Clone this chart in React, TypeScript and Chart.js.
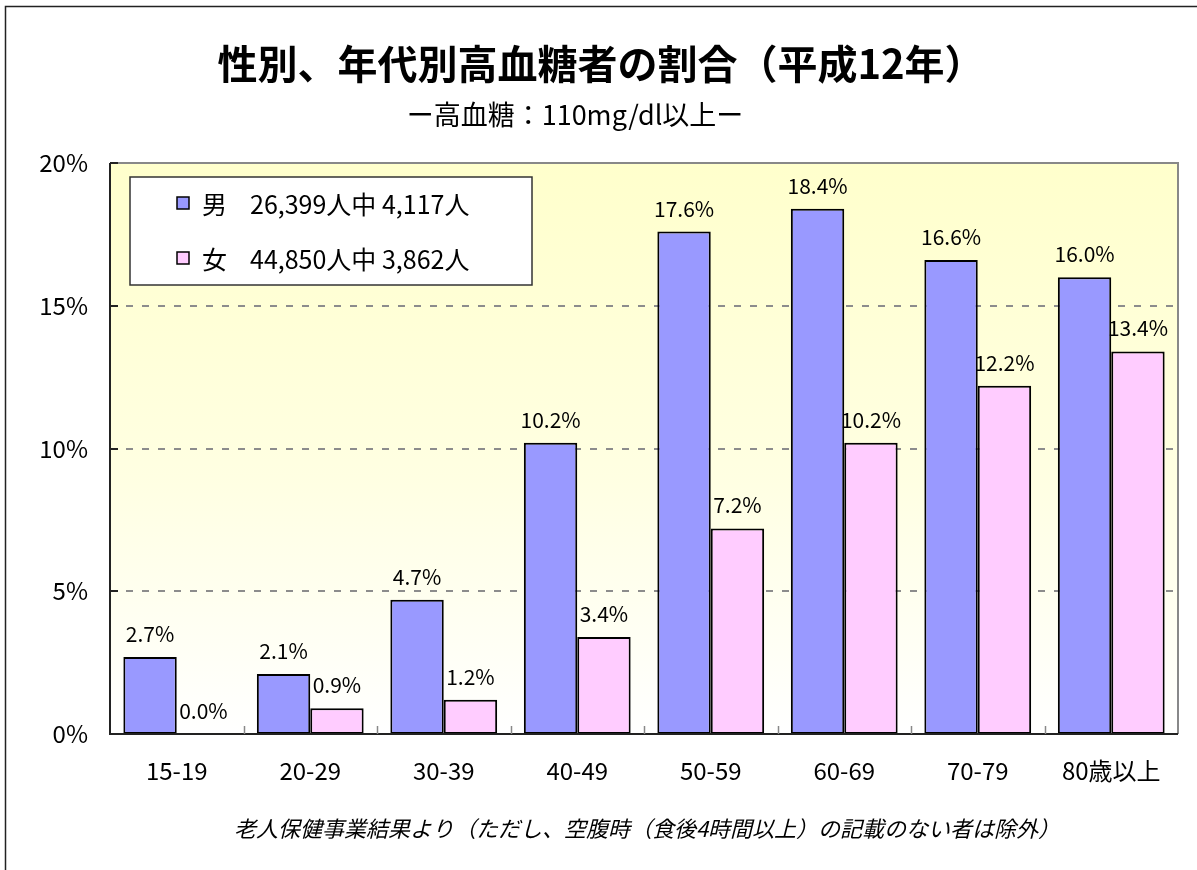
import React, { useEffect, useRef } from 'react';
import { Chart, registerables } from 'chart.js';

Chart.register(...registerables);

const categories = ['15-19', '20-29', '30-39', '40-49', '50-59', '60-69', '70-79', '80歳以上'];
const maleValues = [2.7, 2.1, 4.7, 10.2, 17.6, 18.4, 16.6, 16.0];
const femaleValues = [0.0, 0.9, 1.2, 3.4, 7.2, 10.2, 12.2, 13.4];
const seriesNames = ['男', '女'];
const legendDetails = ['26,399人中 4,117人', '44,850人中 3,862人'];
const yTicks = [0, 5, 10, 15, 20];
const titleText = '性別、年代別高血糖者の割合（平成12年）';
const subtitleText = 'ー高血糖：110mg/dl以上ー';
const noteText = '老人保健事業結果より（ただし、空腹時（食後4時間以上）の記載のない者は除外）';

const FONT = '"Noto Sans CJK JP", "Noto Sans", sans-serif';
const MALE_COLOR = '#9999FF';
const FEMALE_COLOR = '#FFCCFF';

const decor = {
  id: 'decor',
  beforeDraw(chart: any) {
    const { ctx, chartArea: a, width, height } = chart;
    ctx.save();
    ctx.fillStyle = '#ffffff';
    ctx.fillRect(0, 0, width, height);
    // outer frame
    ctx.strokeStyle = '#222';
    ctx.lineWidth = 1.5;
    ctx.beginPath();
    ctx.moveTo(5.5, height + 5);
    ctx.lineTo(5.5, 6.5);
    ctx.lineTo(width + 5, 6.5);
    ctx.stroke();
    // plot background gradient
    const g = ctx.createLinearGradient(0, a.top, 0, a.bottom);
    g.addColorStop(0, '#FFFFCC');
    g.addColorStop(0.55, '#FFFFE2');
    g.addColorStop(1, '#FFFFFF');
    ctx.fillStyle = g;
    ctx.fillRect(a.left, a.top, a.right - a.left, a.bottom - a.top);
    // dashed grid lines
    const ys = chart.scales.y;
    ctx.strokeStyle = '#8c8c8c';
    ctx.lineWidth = 2;
    ctx.setLineDash([7, 9]);
    yTicks.forEach((v) => {
      if (v === yTicks[0] || v === yTicks[yTicks.length - 1]) return;
      const py = Math.round(ys.getPixelForValue(v));
      ctx.beginPath();
      ctx.moveTo(a.left, py);
      ctx.lineTo(a.right, py);
      ctx.stroke();
    });
    ctx.restore();
  },
  afterDatasetsDraw(chart: any) {
    const { ctx, chartArea: a } = chart;
    const ys = chart.scales.y;
    ctx.save();
    // top & right border (gray)
    ctx.strokeStyle = '#888';
    ctx.lineWidth = 2;
    ctx.beginPath();
    ctx.moveTo(a.left, a.top);
    ctx.lineTo(a.right, a.top);
    ctx.lineTo(a.right, a.bottom);
    ctx.stroke();
    // left & bottom axis (dark)
    ctx.strokeStyle = '#222';
    ctx.lineWidth = 2;
    ctx.beginPath();
    ctx.moveTo(a.left, a.top);
    ctx.lineTo(a.left, a.bottom);
    ctx.lineTo(a.right, a.bottom);
    ctx.stroke();
    // y tick marks
    yTicks.forEach((v) => {
      const py = Math.round(ys.getPixelForValue(v));
      ctx.beginPath();
      ctx.moveTo(a.left, py);
      ctx.lineTo(a.left + 8, py);
      ctx.stroke();
    });
    // x category ticks
    ctx.strokeStyle = '#888';
    ctx.lineWidth = 1.5;
    const n = categories.length;
    for (let i = 1; i < n; i++) {
      const px = Math.round(a.left + ((a.right - a.left) * i) / n) + 0.5;
      ctx.beginPath();
      ctx.moveTo(px, a.bottom);
      ctx.lineTo(px, a.bottom - 8);
      ctx.stroke();
    }
    // data labels
    ctx.fillStyle = '#000';
    ctx.font = `21px ${FONT}`;
    ctx.textAlign = 'center';
    ctx.textBaseline = 'middle';
    chart.data.datasets.forEach((ds: any, di: number) => {
      const meta = chart.getDatasetMeta(di);
      meta.data.forEach((el: any, i: number) => {
        ctx.fillText(ds.data[i].toFixed(1) + '%', el.x, el.y - 23);
      });
    });
    // legend box
    ctx.fillStyle = '#ffffff';
    ctx.fillRect(130, 177, 402, 108);
    ctx.strokeStyle = '#333';
    ctx.lineWidth = 1.5;
    ctx.strokeRect(130, 177, 402, 108);
    const rows = [203, 258];
    const colors = [MALE_COLOR, FEMALE_COLOR];
    ctx.textAlign = 'left';
    ctx.font = `25px ${FONT}`;
    rows.forEach((ry, i) => {
      ctx.fillStyle = colors[i];
      ctx.fillRect(177, ry - 6, 12, 12);
      ctx.strokeStyle = '#000';
      ctx.lineWidth = 1.5;
      ctx.strokeRect(177, ry - 6, 12, 12);
      ctx.fillStyle = '#000';
      ctx.fillText(seriesNames[i], 202, ry + 1);
      ctx.fillText(legendDetails[i], 250, ry + 1);
    });
    // titles
    ctx.textAlign = 'center';
    ctx.fillStyle = '#000';
    ctx.font = `bold 40px ${FONT}`;
    ctx.fillText(titleText, 601, 64);
    ctx.font = `27px ${FONT}`;
    ctx.fillText(subtitleText, 575, 115);
    ctx.font = `italic 22px ${FONT}`;
    ctx.fillText(noteText, 647, 829);
    ctx.restore();
  },
};

export default function App() {
  const ref = useRef<HTMLCanvasElement | null>(null);
  useEffect(() => {
    document.body.style.margin = '0';
    const canvas = ref.current;
    if (!canvas) return;
    const chart = new Chart(canvas, {
      type: 'bar',
      data: {
        labels: categories,
        datasets: [
          {
            label: seriesNames[0],
            data: maleValues,
            backgroundColor: MALE_COLOR,
            borderColor: '#000',
            borderWidth: 2,
            borderSkipped: false,
            categoryPercentage: 0.8,
            barPercentage: 1.0,
          },
          {
            label: seriesNames[1],
            data: femaleValues,
            backgroundColor: FEMALE_COLOR,
            borderColor: '#000',
            borderWidth: 2,
            borderSkipped: false,
            categoryPercentage: 0.8,
            barPercentage: 1.0,
          },
        ],
      },
      options: {
        responsive: false,
        animation: false,
        layout: { padding: { top: 163, right: 19, left: 0, bottom: 0 } },
        plugins: {
          legend: { display: false },
          title: { display: false },
          tooltip: { enabled: false },
        },
        scales: {
          x: {
            offset: true,
            grid: { display: false, drawTicks: false },
            border: { display: false },
            ticks: { color: '#000', font: { family: FONT, size: 24 }, padding: 22, maxRotation: 0 },
            afterFit: (s: any) => { s.height = 136; },
          },
          y: {
            min: 0,
            max: 20,
            grid: { display: false, drawTicks: false },
            border: { display: false },
            ticks: {
              stepSize: 5,
              color: '#000',
              font: { family: FONT, size: 24 },
              padding: 22,
              callback: (v: any) => v + '%',
            },
            afterFit: (s: any) => { s.width = 110; },
          },
        },
      },
      plugins: [decor],
    });
    return () => chart.destroy();
  }, []);
  return (
    <div style={{ position: 'absolute', left: 0, top: 0, width: 1197, height: 870 }}>
      <canvas ref={ref} width={1197} height={870} />
    </div>
  );
}
